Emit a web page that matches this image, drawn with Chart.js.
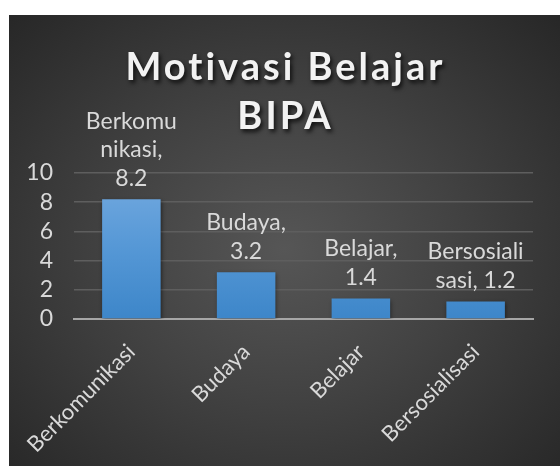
<!DOCTYPE html>
<html>
<head>
<meta charset="utf-8">
<script src="https://cdn.jsdelivr.net/npm/chart.js@4"></script>
<style>
    html, body { margin: 0; padding: 0; background: #fff; }
    #wrap {
        position: absolute; left: 9px; top: 15px; width: 551px; height: 451px;
        background: radial-gradient(ellipse at 50% 52%, #565656 0%, #424242 45%, #272727 100%);
    }
</style>
</head>
<body>
<div id="wrap"><canvas id="chart" width="551" height="451"></canvas></div>
<script>
const categories = ['Berkomunikasi', 'Budaya', 'Belajar', 'Bersosialisasi'];
const values = [8.2, 3.2, 1.4, 1.2];
const yTicks = [0, 2, 4, 6, 8, 10];
const titleLines = ['Motivasi Belajar', 'BIPA'];
// wrapped data labels like excel does it, {v} gets the value
const labelText = ['Berkomu\nnikasi,\n{v}', 'Budaya,\n{v}', 'Belajar,\n{v}', 'Bersosiali\nsasi, {v}'];

const FONT = 'Lato, "Open Sans", sans-serif';

let titleAndLabels = {
    id: 'titleAndLabels',
    afterDraw: function (chart) {
        let c = chart.ctx;
        let meta = chart.getDatasetMeta(0);
        c.save();
        c.font = '23px ' + FONT;
        c.fillStyle = '#d9d9d9';
        c.textAlign = 'center';
        c.textBaseline = 'middle';
        meta.data.forEach(function (bar, i) {
            let lines = labelText[i].replace('{v}', values[i]).split('\n');
            for (let k = 0; k < lines.length; k++) {
                let y = bar.y - 21 - (lines.length - 1 - k) * 28.5;
                c.fillText(lines[k], bar.x, y);
            }
        });
        // title with shadow
        c.font = 'bold 38px ' + FONT;
        if ('letterSpacing' in c) c.letterSpacing = '3px';
        c.fillStyle = '#f2f2f2';
        c.shadowColor = 'rgba(0,0,0,0.75)';
        c.shadowBlur = 4;
        c.shadowOffsetX = 2;
        c.shadowOffsetY = 3;
        titleLines.forEach(function (t, i) {
            c.fillText(t, chart.width / 2 + 1, 53 + i * 49);
        });
        c.restore();
    }
};

let barShadow = {
    id: 'barShadow',
    beforeDatasetsDraw: function (chart) {
        let c = chart.ctx;
        c.save();
        c.shadowColor = 'rgba(0,0,0,0.45)';
        c.shadowBlur = 4;
        c.shadowOffsetX = 1;
        c.shadowOffsetY = 2;
    },
    afterDatasetsDraw: function (chart) {
        chart.ctx.restore();
    }
};

let ctx = document.getElementById('chart').getContext('2d');
new Chart(ctx, {
    type: 'bar',
    data: {
        labels: categories,
        datasets: [{
            data: values,
            backgroundColor: function (context) {
                let area = context.chart.chartArea;
                if (!area) return '#5b9bd5';
                let g = context.chart.ctx.createLinearGradient(0, area.top, 0, area.bottom);
                g.addColorStop(0, '#74aae0');
                g.addColorStop(0.5, '#5698d6');
                g.addColorStop(1, '#3d86c9');
                return g;
            },
            categoryPercentage: 1,
            barPercentage: 0.51,
        }]
    },
    options: {
        responsive: false,
        animation: false,
        layout: {
            padding: { top: 158, right: 27, left: 0, bottom: 0 }
        },
        plugins: {
            legend: { display: false },
            title: { display: false },
            tooltip: { enabled: false }
        },
        scales: {
            x: {
                grid: { display: false },
                border: { color: '#a6a6a6', width: 2 },
                ticks: {
                    color: '#d9d9d9',
                    font: { family: FONT, size: 22 },
                    minRotation: 45,
                    maxRotation: 45,
                    padding: 12
                },
                afterFit: function (scale) { scale.height = 147; }
            },
            y: {
                min: 0,
                max: 10,
                afterBuildTicks: function (scale) {
                    scale.ticks = yTicks.map(v => ({ value: v }));
                },
                grid: { color: '#5e5e5e', lineWidth: 1.5, drawTicks: false },
                border: { display: false },
                ticks: {
                    color: '#d9d9d9',
                    font: { family: FONT, size: 23 },
                    padding: 21,
                    autoSkip: false
                },
                afterFit: function (scale) { scale.width = 65; }
            }
        }
    },
    plugins: [barShadow, titleAndLabels]
});
</script>
</body>
</html>
